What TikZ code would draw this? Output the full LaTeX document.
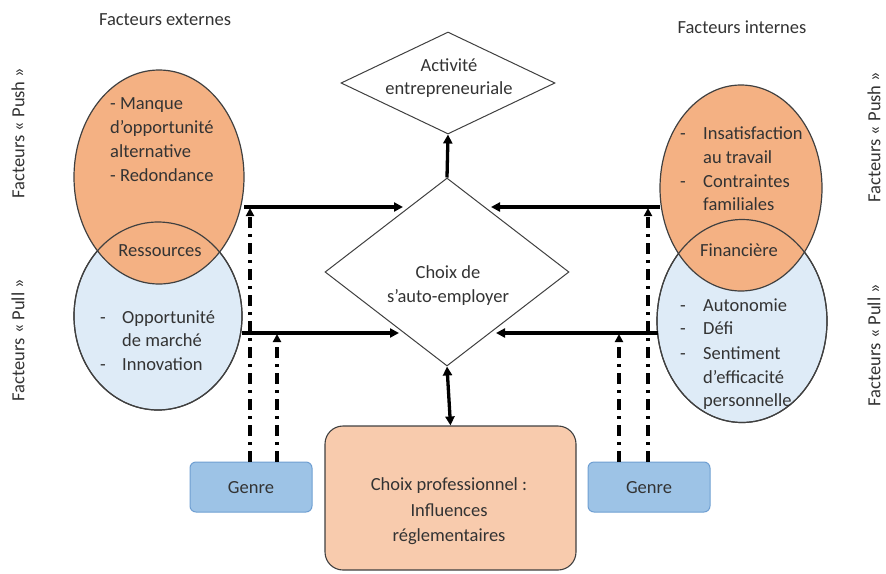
\documentclass[tikz,border=0pt]{standalone}
\usepackage{fontspec}
\setmainfont{Carlito}
\usetikzlibrary{shapes.geometric,arrows.meta}
\definecolor{orf}{HTML}{F4B183}
\definecolor{blf}{HTML}{DEEBF7}
\definecolor{gnf}{HTML}{9DC3E6}
\definecolor{gnd}{HTML}{6F9FD2}
\definecolor{cpf}{HTML}{F8CBAD}
\definecolor{txt}{HTML}{333333}
\definecolor{edge}{HTML}{404040}
\begin{document}
\begin{tikzpicture}[x=1pt,y=-1pt,
  every node/.style={text=txt,font=\fontsize{18.5}{24}\selectfont},
  ln/.style={anchor=base west,inner sep=0pt},
  lc/.style={anchor=base,inner sep=0pt},
  oval/.style={ellipse,draw=edge,line width=1.2pt,inner sep=0pt},
  dia/.style={diamond,draw=edge,line width=1pt,inner sep=0pt,fill=white},
  arr/.style={line width=3.3pt,-{Triangle[length=9pt,width=9pt]}},
  darr/.style={line width=3.3pt,{Triangle[length=9pt,width=9pt]}-{Triangle[length=9pt,width=9pt]}},
  dd/.style={line width=3.3pt,dash pattern=on 11pt off 6pt on 3pt off 6pt,-{Triangle[length=8pt,width=8pt]}},
  genrebox/.style={draw=gnd,fill=gnf,rounded corners=6pt,line width=1pt,minimum width=122pt,minimum height=50pt,inner sep=0pt}
]
\useasboundingbox (0,0) rectangle (886,573);

% headers
\node (fe) at (165,20) {Facteurs externes};
\node (fi) at (742,27) {Facteurs internes};
\node[rotate=90] (lpush) at (18,133) {Facteurs « Push »};
\node[rotate=90] (lpull) at (18,340) {Facteurs « Pull »};
\node[rotate=90] (rpush) at (874,137) {Facteurs « Push »};
\node[rotate=90] (rpull) at (874,345) {Facteurs « Pull »};

% left ellipses
\node[oval,fill=blf,minimum width=168pt,minimum height=188pt] (lb) at (158,316) {};
\node[oval,fill=orf,minimum width=170pt,minimum height=214pt] (lo) at (159,177) {};
\node[oval,minimum width=168pt,minimum height=188pt] (lb2) at (158,316) {};

% right ellipses
\node[oval,fill=blf,minimum width=170pt,minimum height=203pt] (rb) at (742,321) {};
\node[oval,fill=orf,minimum width=162pt,minimum height=206pt] (ro) at (741,188) {};
\node[oval,minimum width=170pt,minimum height=203pt] (rb2) at (742,321) {};

% left orange text
\node[ln] (t1) at (110,109) {- Manque};
\node[ln] (t2) at (110,133) {d’opportunité};
\node[ln] (t3) at (110,157) {alternative};
\node[ln] (t4) at (110,181) {- Redondance};
\node[lc] (res) at (160,256) {Ressources};
% left blue text
\node[ln] (b0) at (100,323) {-};
\node[ln] (b1) at (122,323) {Opportunité};
\node[ln] (b2) at (122,346) {de marché};
\node[ln] (b3) at (100,370) {-};
\node[ln] (b4) at (122,370) {Innovation};

% right orange text
\node[ln] (r0) at (680,139) {-};
\node[ln] (r1) at (703,139) {Insatisfaction};
\node[ln] (r2) at (703,163) {au travail};
\node[ln] (r3) at (680,187) {-};
\node[ln] (r4) at (703,187) {Contraintes};
\node[ln] (r5) at (703,210) {familiales};
\node[lc] (fin) at (739,256) {Financière};
% right blue text
\node[ln] (s0) at (680,311) {-};
\node[ln] (s1) at (703,311) {Autonomie};
\node[ln] (s2) at (680,334) {-};
\node[ln] (s3) at (703,334) {Défi};
\node[ln] (s4) at (680,359) {-};
\node[ln] (s5) at (703,359) {Sentiment};
\node[ln] (s6) at (703,383) {d’efficacité};
\node[ln] (s7) at (703,406) {personnelle};

% diamonds
\node[dia,minimum width=214pt,minimum height=102pt] (act) at (448,83) {};
\node[lc] (act1) at (449,71) {Activité};
\node[lc] (act2) at (449,94) {entrepreneuriale};
\node[dia,minimum width=244pt,minimum height=188pt] (cho) at (447,272) {};
\node[lc] (cho1) at (448,278) {Choix de};
\node[lc] (cho2) at (448,302) {s’auto-employer};

% bottom boxes
\node[draw=edge,fill=cpf,rounded corners=18pt,line width=1.1pt,minimum width=251pt,minimum height=144pt,inner sep=0pt] (cp) at (450.5,498) {};
\node[lc] (cp1) at (449,490) {Choix professionnel :};
\node[lc] (cp2) at (449,516) {Influences};
\node[lc] (cp3) at (449,541) {réglementaires};
\node[genrebox] (g1) at (251,487) {};
\node[lc] (g1t) at (251,493) {Genre};
\node[genrebox] (g2) at (649,487) {};
\node[lc] (g2t) at (649,493) {Genre};

% coordinates
\coordinate (lu) at (244,207);
\coordinate (lud) at (403,207);
\coordinate (ll) at (242,333);
\coordinate (lld) at (399,333);
\coordinate (ru) at (660,207);
\coordinate (rud) at (491,207);
\coordinate (rl) at (658,333);
\coordinate (rld) at (496,333);

% dash-dot arrows
\draw[dd] (g1.north -| 250,0) -- (250,208);
\draw[dd] (g1.north -| 277,0) -- (277,334);
\draw[dd] (g2.north -| 648,0) -- (648,208);
\draw[dd] (g2.north -| 619,0) -- (619,334);

% solid arrows
\draw[arr] (lu) -- (lud);
\draw[arr] (ll) -- (lld);
\draw[arr] (ru) -- (rud);
\draw[arr] (rl) -- (rld);
\draw[arr] (cho.north) -- (act.south);
\draw[darr] (cho.south) -- (cp.north);
\end{tikzpicture}
\end{document}
